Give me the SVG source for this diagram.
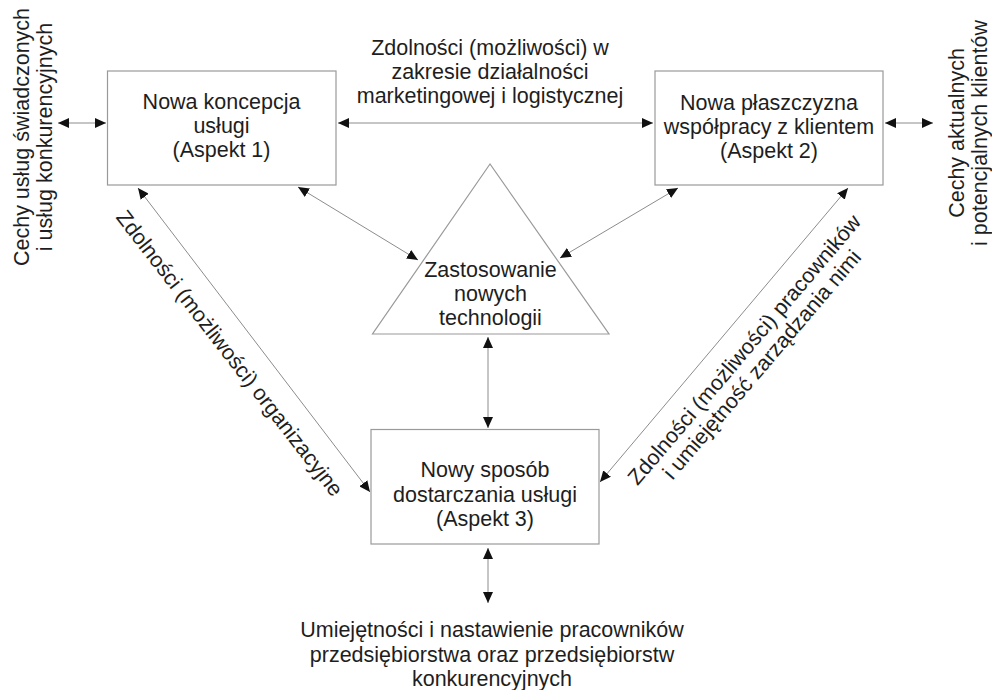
<svg xmlns="http://www.w3.org/2000/svg" width="992" height="690" viewBox="0 0 992 690">
<style>
text{font-family:"Liberation Sans",Arial,sans-serif;font-size:21.5px;fill:#1e1e1e}
.c{text-anchor:middle}
.box{fill:#fff;stroke:#9a9a9a;stroke-width:1.2}
.ln{stroke:#8c8c8c;stroke-width:1;fill:none;marker-start:url(#ah);marker-end:url(#ah)}
</style>
<defs>
<marker id="ah" markerUnits="userSpaceOnUse" markerWidth="11" markerHeight="10" refX="11" refY="5" orient="auto-start-reverse">
<path d="M0,0 L11,5 L0,10 z" fill="#111"/>
</marker>
</defs>
<rect width="992" height="690" fill="#fff"/>
<g id="connectors">
<line class="ln" x1="58" y1="123" x2="106" y2="123"/>
<line class="ln" x1="338" y1="123" x2="653" y2="123"/>
<line class="ln" x1="885" y1="123" x2="933" y2="123"/>
<line class="ln" x1="298" y1="187" x2="418" y2="260"/>
<line class="ln" x1="678" y1="188" x2="560" y2="258"/>
<line class="ln" x1="488" y1="337" x2="488" y2="428"/>
<line class="ln" x1="488" y1="548" x2="488" y2="603"/>
<line class="ln" x1="138" y1="188" x2="370" y2="492"/>
<line class="ln" x1="848" y1="188" x2="600" y2="482"/>
</g>
<g id="aspekt1">
<rect class="box" x="107.5" y="71" width="228.5" height="114"/>
<text class="c" x="221.5" y="109">Nowa koncepcja</text>
<text class="c" x="221.5" y="133">usługi</text>
<text class="c" x="221.5" y="157">(Aspekt 1)</text>
</g>
<g id="aspekt2">
<rect class="box" x="655" y="71" width="228" height="114"/>
<text class="c" x="769" y="109.5">Nowa płaszczyzna</text>
<text class="c" x="769" y="133.5">współpracy z klientem</text>
<text class="c" x="769" y="157.5">(Aspekt 2)</text>
</g>
<g id="technologie">
<polygon class="box" points="490,164 372.5,334 609,334"/>
<text class="c" x="490.5" y="277">Zastosowanie</text>
<text class="c" x="490.5" y="301">nowych</text>
<text class="c" x="490.5" y="325">technologii</text>
</g>
<g id="aspekt3">
<rect class="box" x="371" y="429.5" width="228" height="114.5"/>
<text class="c" x="485" y="477">Nowy sposób</text>
<text class="c" x="485" y="501.5">dostarczania usługi</text>
<text class="c" x="485" y="526">(Aspekt 3)</text>
</g>
<g id="label-marketing">
<text class="c" x="490" y="55">Zdolności (możliwości) w</text>
<text class="c" x="490" y="79">zakresie działalności</text>
<text class="c" x="490" y="103">marketingowej i logistycznej</text>
</g>
<g id="label-cechy-uslug" transform="translate(0,137) rotate(-90)">
<text class="c" x="0" y="29">Cechy usług świadczonych</text>
<text class="c" x="0" y="52">i usług konkurencyjnych</text>
</g>
<g id="label-cechy-klientow" transform="translate(0,133) rotate(-90)">
<text class="c" x="0" y="964">Cechy aktualnych</text>
<text class="c" x="0" y="987">i potencjalnych klientów</text>
</g>
<g id="label-organizacyjne" transform="translate(230,353) rotate(52.2)">
<text class="c" x="0" y="7.7">Zdolności (możliwości) organizacyjne</text>
</g>
<g id="label-pracownicy" transform="translate(752.8,356.8) rotate(-49.6)">
<text class="c" x="0" y="-3.8">Zdolności (możliwości) pracowników</text>
<text class="c" x="0" y="19.2">i umiejętność zarządzania nimi</text>
</g>
<g id="label-umiejetnosci">
<text class="c" x="492" y="637">Umiejętności i nastawienie pracowników</text>
<text class="c" x="492" y="661.5">przedsiębiorstwa oraz przedsiębiorstw</text>
<text class="c" x="492" y="686">konkurencyjnych</text>
</g>
</svg>
